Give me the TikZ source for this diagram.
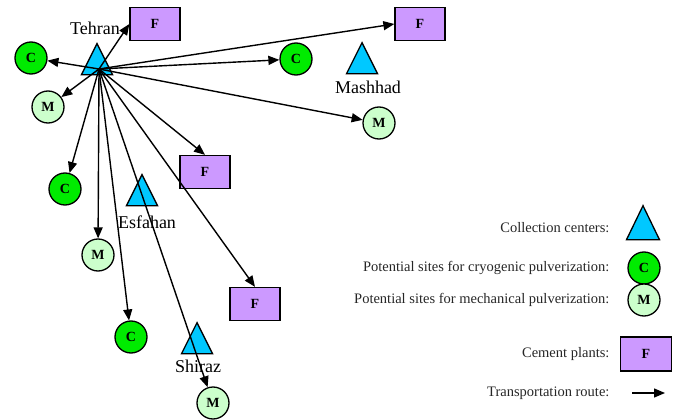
\documentclass[tikz,border=0pt]{standalone}
\usepackage{fontspec}
\setmainfont{Liberation Serif}
\usetikzlibrary{shapes.geometric, arrows.meta}

\definecolor{citycyan}{RGB}{0,200,255}
\definecolor{cryogreen}{RGB}{0,235,0}
\definecolor{mechgreen}{RGB}{204,255,204}
\definecolor{plantviolet}{RGB}{204,153,255}

\begin{document}
\begin{tikzpicture}[x=1pt, y=-1pt,
    city/.style={draw, line width=1.3pt, fill=citycyan, isosceles triangle, isosceles triangle stretches, shape border rotate=90, minimum width=31pt, minimum height=31pt, inner sep=0pt, anchor=apex},
    citylabel/.style={font=\fontsize{18}{18}\selectfont},
    site/.style={draw, line width=1.3pt, circle, minimum size=32pt, inner sep=0pt, font=\fontsize{14}{14}\selectfont\bfseries},
    cryo/.style={site, fill=cryogreen},
    mech/.style={site, fill=mechgreen},
    plant/.style={draw, line width=1.3pt, fill=plantviolet, minimum width=50pt, minimum height=33pt, inner sep=0pt, font=\fontsize{14}{14}\selectfont\bfseries},
    legendtext/.style={anchor=east, font=\fontsize{14.5}{14.5}\selectfont, text=black!85}]
					\useasboundingbox (0,0) rectangle (678,420);

					\def\legX{613};

					\begin{scope}
						\node[city] (tehran) at (97,42) {};
						\node[city] (mashhad) at (362,41) {};
						\node[city] (esfahan) at (142,173) {};
						\node[city] (shiraz) at (197,321) {};
						\node[citylabel] (tehranlbl) at (95,28) {Tehran};
						\node[citylabel] (mashhadlbl) at (368,87) {Mashhad};
						\node[citylabel] (esfahanlbl) at (147,222) {Esfahan};
						\node[citylabel] (shirazlbl) at (198,366) {Shiraz};
					\end{scope}

					\begin{scope}
						\node[cryo] (c1) at (31,58) {C};
						\node[cryo] (c2) at (296,59) {C};
						\node[cryo] (c3) at (65,189) {C};
						\node[cryo] (c4) at (131,337) {C};
						\node[mech] (m1) at (48,107) {M};
						\node[mech] (m2) at (379,123) {M};
						\node[mech] (m3) at (98,255) {M};
						\node[mech] (m4) at (213,403) {M};
						\node[plant] (f1) at (155,24) {F};
						\node[plant] (f2) at (420,24) {F};
						\node[plant] (f3) at (205,172) {F};
						\node[plant] (f4) at (255,304) {F};
					\end{scope}

					\coordinate (hub) at (99,69);
					\begin{scope}[-{Triangle[length=11pt,width=9pt]}, line width=1.4pt]
						\draw (hub) -- (f1.west);
						\draw (hub) -- (f2.west);
						\draw (hub) -- (f3.north);
						\draw (hub) -- (f4.north);
						\draw (hub) -- (c1);
						\draw (hub) -- (c2);
						\draw (hub) -- (c3);
						\draw (hub) -- (c4);
						\draw (hub) -- (m1);
						\draw (hub) -- (m2);
						\draw (hub) -- (m3);
						\draw (hub) -- (m4);
					\end{scope}

					\begin{scope}
						\node[legendtext] (legcity) at (\legX,228) {Collection centers:};
						\node[legendtext] (legcryo) at (\legX,268) {Potential sites for cryogenic pulverization:};
						\node[legendtext] (legmech) at (\legX,300) {Potential sites for mechanical pulverization:};
						\node[legendtext] (legplant) at (\legX,354) {Cement plants:};
						\node[legendtext] (legroute) at (\legX,393) {Transportation route:};
						\node[city, minimum width=33pt, minimum height=34pt] (keycity) at (643,204) {};
						\node[cryo] (keycryo) at (644,268) {C};
						\node[mech] (keymech) at (644,300) {M};
						\node[plant, minimum width=51pt, minimum height=34pt] (keyplant) at (646,354) {F};
						\coordinate (routeA) at (632,393);
						\coordinate (routeB) at (665,393);
						\draw[-{Triangle[length=11pt,width=9pt]}, line width=1.4pt] (routeA) -- (routeB);
					\end{scope}
				\end{tikzpicture}
\end{document}
